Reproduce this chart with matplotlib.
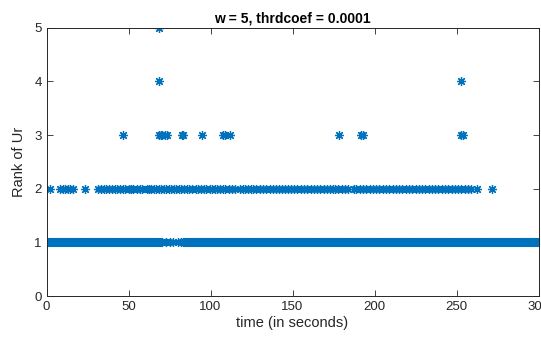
import matplotlib
matplotlib.use('Agg')
import matplotlib.pyplot as plt
import numpy as np

plt.rcParams['font.family'] = ['Liberation Sans', 'DejaVu Sans']

# sample time base of the recording (seconds) and where rank 1 is missing
sample_step = 0.5
t_end = 300
rank1_gap = (69.5, 83.5)
rank1_in_gap = [70.5, 73.0, 75.0, 77.0, 80.0, 82.0]

rank2_times = [2.0,
               8.5, 10, 11.5, 13, 14.5, 16,
               23.5,
               31.5, 33, 35, 36.5, 38, 40, 41.5, 43, 45, 46.5, 48, 50, 51.5, 53, 55, 57, 58.5,
               61, 62.5, 64, 65.5, 67, 68.5, 70, 71.5, 73, 74.5, 76, 77.5, 79, 80.5, 82, 84,
               85.5, 87, 89, 91, 92.5, 94, 96, 97.5, 99.5,
               101, 102.5, 104, 106, 107.5, 109, 111, 113, 115,
               118, 119.5, 121, 123, 124.5, 126, 128, 130, 132, 134, 136, 138, 140,
               142, 143.5, 145.5, 147, 149, 151, 153, 155, 157, 159, 161, 163, 165, 167,
               169, 171, 173, 174.5, 176, 178, 180, 182, 184, 187.5, 189, 191, 193, 195,
               197, 199, 201, 203, 205, 207, 209, 211, 213, 215, 217, 219, 221, 223, 225,
               227, 229, 231, 233, 235, 237, 239, 241, 243, 245, 247, 249, 251, 253, 255,
               257, 259, 262.5, 271.5]
rank3_times = [46.5, 68.8, 69.5, 70.5, 72.0, 73.7, 82.5, 83.5, 94.8,
               107.8, 109.0, 111.8, 178.4, 191.6, 192.8, 253.0, 253.8]
rank4_times = [68.8, 253.0]
rank5_times = [68.8]

blue = '#0072BD'
grey = '#262626'

samples = np.arange(0, t_end + sample_step, sample_step)
rank1_times = [t for t in samples if not (rank1_gap[0] < t < rank1_gap[1])] + rank1_in_gap

fig = plt.figure(figsize=(5.41, 3.40), dpi=100)
ax = fig.add_axes([0.086, 0.1294, 0.9094, 0.7891])

star = (8, 2, 0)
for times, rank in [(rank1_times, 1), (rank2_times, 2), (rank3_times, 3),
                    (rank4_times, 4), (rank5_times, 5)]:
    ax.plot(times, [rank] * len(times), linestyle='none', marker=star,
            markersize=6.5, markeredgewidth=0.9, color=blue)

ax.set_xlim(0, 300)
ax.set_ylim(0, 5)
ax.set_xticks(range(0, 301, 50))
ax.set_yticks(range(0, 6))

ax.tick_params(direction='in', top=True, right=True, length=4, width=0.6,
               colors=grey, labelsize=9.5)
for sp in ax.spines.values():
    sp.set_color(grey)
    sp.set_linewidth(0.7)

ax.set_title('w = 5, thrdcoef = 0.0001', fontsize=10, fontweight='bold', color='black', pad=4)
ax.set_xlabel('time (in seconds)', fontsize=10.5, color=grey, labelpad=2)
ax.set_ylabel('Rank of Ur', fontsize=10.5, color=grey, labelpad=6)

fig.savefig('out.png', dpi=100)
